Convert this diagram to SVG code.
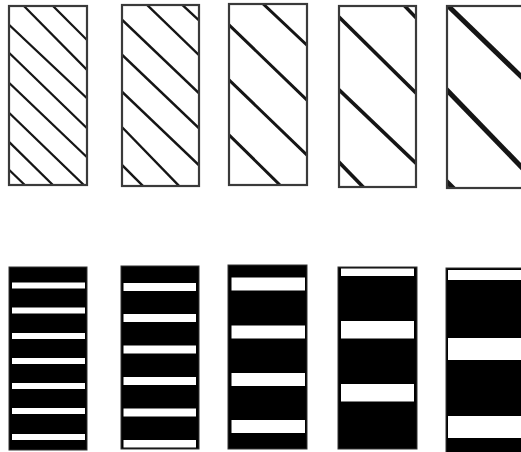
<svg xmlns="http://www.w3.org/2000/svg" width="521" height="452" viewBox="0 0 521 452">
<style>
.frame{fill:none;stroke:#3a3a3a;stroke-width:2.2}
.h{stroke:#151515;fill:none;stroke-linecap:butt}
.bar{fill:#000;stroke:#333;stroke-width:1}
.gap{fill:#fff}
</style>
<defs>
<clipPath id="c1"><rect x="9" y="6" width="78" height="179"/></clipPath>
<clipPath id="c2"><rect x="122" y="5" width="77" height="181"/></clipPath>
<clipPath id="c3"><rect x="229" y="4" width="78" height="181"/></clipPath>
<clipPath id="c4"><rect x="339" y="6" width="77" height="181"/></clipPath>
<clipPath id="c5"><rect x="447" y="6" width="80" height="182"/></clipPath>
</defs>
<rect width="521" height="452" fill="#fff"/>

<g id="hatch1">
<g clip-path="url(#c1)" class="h" stroke-width="2.2">
<line x1="48" y1="1" x2="92" y2="45"/>
<line x1="19" y1="1" x2="92" y2="75"/>
<line x1="4" y1="20" x2="92" y2="103"/>
<line x1="4" y1="48" x2="92" y2="133"/>
<line x1="4" y1="78" x2="92" y2="162"/>
<line x1="4" y1="108" x2="89" y2="190"/>
<line x1="4" y1="137" x2="58" y2="190"/>
<line x1="4" y1="165" x2="30" y2="190"/>
</g>
<rect class="frame" x="9" y="6" width="78" height="179"/>
</g>

<g id="hatch2">
<g clip-path="url(#c2)" class="h" stroke-width="2.4">
<line x1="177" y1="0" x2="204" y2="25"/>
<line x1="142" y1="0" x2="204" y2="60"/>
<line x1="117" y1="15" x2="204" y2="98"/>
<line x1="117" y1="50" x2="204" y2="133"/>
<line x1="117" y1="87" x2="204" y2="170"/>
<line x1="117" y1="122" x2="184" y2="191"/>
<line x1="117" y1="160" x2="148" y2="191"/>
</g>
<rect class="frame" x="122" y="5" width="77" height="181"/>
</g>

<g id="hatch3">
<g clip-path="url(#c3)" class="h" stroke-width="3">
<line x1="259" y1="0" x2="312" y2="50"/>
<line x1="224" y1="20" x2="312" y2="105"/>
<line x1="224" y1="75" x2="312" y2="160"/>
<line x1="224" y1="130" x2="285" y2="190"/>
</g>
<rect class="frame" x="229" y="4" width="78" height="181"/>
</g>

<g id="hatch4">
<g clip-path="url(#c4)" class="h" stroke-width="3.6">
<line x1="400" y1="1" x2="421" y2="23"/>
<line x1="334" y1="12" x2="421" y2="98"/>
<line x1="334" y1="85" x2="421" y2="168"/>
<line x1="334" y1="157" x2="368" y2="192"/>
</g>
<rect class="frame" x="339" y="6" width="77" height="181"/>
</g>

<g id="hatch5">
<g clip-path="url(#c5)" class="h" stroke-width="5">
<line x1="443" y1="1" x2="532" y2="87"/>
<line x1="442" y1="85" x2="532" y2="178"/>
<line x1="442" y1="177" x2="457" y2="192"/>
</g>
<rect class="frame" x="447" y="6" width="80" height="182"/>
</g>

<g id="bars1">
<rect class="bar" x="9" y="267" width="78" height="183"/>
<rect class="gap" x="12" y="282.5" width="73" height="6"/>
<rect class="gap" x="12" y="307.5" width="73" height="6"/>
<rect class="gap" x="12" y="333" width="73" height="6"/>
<rect class="gap" x="12" y="358" width="73" height="6"/>
<rect class="gap" x="12" y="383" width="73" height="6"/>
<rect class="gap" x="12" y="408" width="73" height="6"/>
<rect class="gap" x="12" y="434" width="73" height="6"/>
</g>

<g id="bars2">
<rect class="bar" x="121" y="266" width="78" height="183"/>
<rect class="gap" x="123.5" y="283" width="72.5" height="8"/>
<rect class="gap" x="123.5" y="314" width="72.5" height="8"/>
<rect class="gap" x="123.5" y="345.5" width="72.5" height="8"/>
<rect class="gap" x="123.5" y="377" width="72.5" height="8"/>
<rect class="gap" x="123.5" y="408.5" width="72.5" height="8"/>
<rect class="gap" x="123.5" y="440" width="72.5" height="7.5"/>
</g>

<g id="bars3">
<rect class="bar" x="228" y="265" width="79" height="184"/>
<rect class="gap" x="231.5" y="277.5" width="73.5" height="13"/>
<rect class="gap" x="231.5" y="325.5" width="73.5" height="13"/>
<rect class="gap" x="231.5" y="373" width="73.5" height="13"/>
<rect class="gap" x="231.5" y="420" width="73.5" height="13"/>
</g>

<g id="bars4">
<rect class="bar" x="338" y="267" width="79" height="182"/>
<rect class="gap" x="341" y="268.5" width="73" height="7.5"/>
<rect class="gap" x="341" y="321" width="73" height="17.5"/>
<rect class="gap" x="341" y="384" width="73" height="17.5"/>
</g>

<g id="bars5">
<rect class="bar" x="446" y="268" width="82" height="186"/>
<rect class="gap" x="448" y="270" width="80" height="10"/>
<rect class="gap" x="448" y="338" width="80" height="22"/>
<rect class="gap" x="448" y="416" width="80" height="22"/>
</g>
</svg>
